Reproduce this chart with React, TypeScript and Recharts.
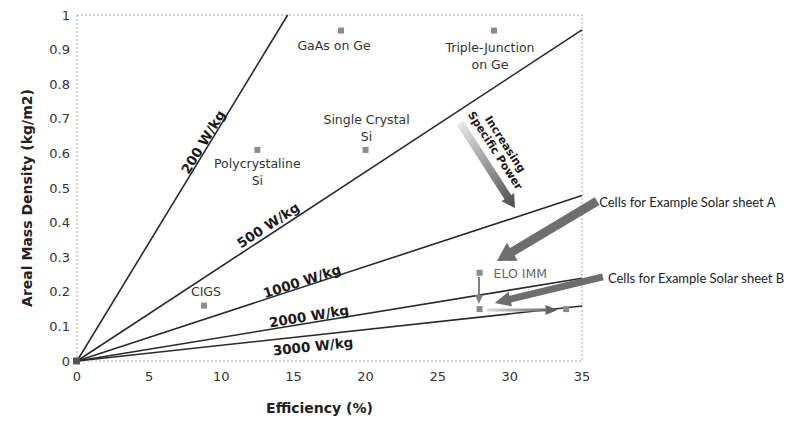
import React from "react";
import {
  ComposedChart,
  XAxis,
  YAxis,
  Scatter,
  ReferenceLine,
  ReferenceDot,
  ReferenceArea,
  Label,
} from "recharts";

// solar cell technologies: efficiency (%) vs areal mass density (kg/m2)
const cellEfficiency = [18.3, 28.9, 20.0, 12.5, 8.8, 27.9, 27.9, 33.9, 0];
const cellDensity = [0.955, 0.955, 0.61, 0.61, 0.16, 0.255, 0.15, 0.15, 0];
const cellNames = [
  "GaAs on Ge",
  "Triple-Junction|on Ge",
  "Single Crystal|Si",
  "Polycrystaline|Si",
  "CIGS",
  "ELO IMM",
  "",
  "",
  "",
];

// constant specific power lines, from origin to the end point
const powerLabels = ["200 W/kg", "500 W/kg", "1000 W/kg", "2000 W/kg", "3000 W/kg"];
const lineEndEfficiency = [14.6, 35, 35, 35, 35];
const lineEndDensity = [1, 0.957, 0.478, 0.239, 0.159];

const xTicks = [0, 5, 10, 15, 20, 25, 30, 35];
const yTicks = [0, 0.1, 0.2, 0.3, 0.4, 0.5, 0.6, 0.7, 0.8, 0.9, 1];

// annotation arrows in data units (tail -> tip)
const arrowTailX = [36.05, 36.45, 26.55, 27.86, 28.4];
const arrowTailY = [0.462, 0.243, 0.688, 0.243, 0.147];
const arrowTipX = [29.1, 28.95, 30.35, 27.86, 33.3];
const arrowTipY = [0.289, 0.168, 0.442, 0.165, 0.147];
const arrowText = ["Cells for Example Solar sheet A", "Cells for Example Solar sheet B", "", "", ""];

const verdana = "DejaVu Sans, Verdana, sans-serif";

// layout for labels (pixel offsets / placement)
const cellLabelLayout: Record<string, { dx: number; dy: number; anchor: string }> = {
  "GaAs on Ge": { dx: -7, dy: 14, anchor: "middle" },
  "Triple-Junction|on Ge": { dx: -4, dy: 16, anchor: "middle" },
  "Single Crystal|Si": { dx: 1, dy: -31, anchor: "middle" },
  "Polycrystaline|Si": { dx: 0, dy: 13, anchor: "middle" },
  CIGS: { dx: 2, dy: -15, anchor: "middle" },
  "ELO IMM": { dx: 14, dy: 0, anchor: "start" },
};

const lineLabelX = [8.73, 13.24, 15.59, 16.08, 16.36];
const lineLabelY = [0.633, 0.393, 0.231, 0.13, 0.043];
const lineLabelAngle = [-58.7, -33.2, -18.1, -9.5, -6.2];

// shaft width, head width, head length, colours (tail -> tip)
const arrowStyle = [
  { shaft: 9, head: 21, len: 18, from: "#6e6e6e", to: "#6e6e6e" },
  { shaft: 7, head: 15, len: 16, from: "#6e6e6e", to: "#6e6e6e" },
  { shaft: 8, head: 15, len: 13, from: "#e8e8e8", to: "#4a4a4a" },
  { shaft: 2, head: 8, len: 9, from: "#808080", to: "#808080" },
  { shaft: 3, head: 10, len: 12, from: "#dcdcdc", to: "#555555" },
];

function arrowPoints(x1: number, y1: number, x2: number, y2: number, s: number, h: number, l: number) {
  const dx = x2 - x1;
  const dy = y2 - y1;
  const d = Math.sqrt(dx * dx + dy * dy) || 1;
  const ux = dx / d;
  const uy = dy / d;
  const nx = -uy;
  const ny = ux;
  const bx = x2 - ux * l;
  const by = y2 - uy * l;
  const pts = [
    [x1 + (nx * s) / 2, y1 + (ny * s) / 2],
    [bx + (nx * s) / 2, by + (ny * s) / 2],
    [bx + (nx * h) / 2, by + (ny * h) / 2],
    [x2, y2],
    [bx - (nx * h) / 2, by - (ny * h) / 2],
    [bx - (nx * s) / 2, by - (ny * s) / 2],
    [x1 - (nx * s) / 2, y1 - (ny * s) / 2],
  ];
  return pts.map((p) => `${p[0].toFixed(1)},${p[1].toFixed(1)}`).join(" ");
}

const CellMarker = (props: any) => {
  const { cx, cy, payload } = props;
  if (cx == null || cy == null) return null;
  if (payload && payload.x === 0) {
    return <rect x={cx - 4} y={cy - 3.5} width={7} height={7} fill="#555" />;
  }
  return <rect x={cx - 3} y={cy - 3} width={6} height={6} fill="#8c8c8c" />;
};

const cellData = cellEfficiency.map((x, i) => ({ x, y: cellDensity[i], name: cellNames[i] }));

export default function App() {
  return (
    <div style={{ position: "absolute", left: 0, top: 0, background: "#fff" }}>
      <ComposedChart
        width={795}
        height={429}
        margin={{ top: 15, right: 213, bottom: 38, left: 0 }}
      >
        <XAxis
          type="number"
          dataKey="x"
          domain={[0, 35]}
          ticks={xTicks}
          axisLine={false}
          tickLine={false}
          tickSize={0}
          tickMargin={11}
          height={30}
          tick={{ fill: "#333", fontSize: 13, fontFamily: verdana }}
        >
          <Label
            content={(p: any) => {
              const vb = p.viewBox || { x: 77, y: 361, width: 505 };
              return (
                <text
                  x={vb.x + vb.width / 2 - 10}
                  y={413}
                  textAnchor="middle"
                  fontFamily={verdana}
                  fontWeight="bold"
                  fontSize={14}
                  fill="#222"
                >
                  Efficiency (%)
                </text>
              );
            }}
          />
        </XAxis>
        <YAxis
          type="number"
          dataKey="y"
          domain={[0, 1]}
          ticks={yTicks}
          axisLine={false}
          tickLine={false}
          tickSize={0}
          tickMargin={7}
          width={77}
          tick={{ fill: "#333", fontSize: 13, fontFamily: verdana }}
        >
          <Label
            content={() => (
              <text
                x={32}
                y={198}
                transform="rotate(-90 32 198)"
                textAnchor="middle"
                fontFamily={verdana}
                fontWeight="bold"
                fontSize={14}
                fill="#222"
              >
                Areal Mass Density (kg/m2)
              </text>
            )}
          />
        </YAxis>

        <ReferenceArea
          x1={0}
          x2={35}
          y1={0}
          y2={1}
          fill="none"
          fillOpacity={0}
          stroke="#a8a8a8"
          strokeDasharray="2 2"
          strokeWidth={1}
          ifOverflow="visible"
        />

        {powerLabels.map((label, i) => (
          <ReferenceLine
            key={label}
            segment={[
              { x: 0, y: 0 },
              { x: lineEndEfficiency[i], y: lineEndDensity[i] },
            ]}
            stroke="#2a2a2a"
            strokeWidth={1.6}
            ifOverflow="visible"
          />
        ))}

        {powerLabels.map((label, i) => (
          <ReferenceDot
            key={"lbl" + label}
            x={lineLabelX[i]}
            y={lineLabelY[i]}
            r={0}
            ifOverflow="visible"
            shape={(p: any) => (
              <text
                x={p.cx}
                y={p.cy}
                transform={`rotate(${lineLabelAngle[i]} ${p.cx} ${p.cy})`}
                textAnchor="middle"
                dominantBaseline="central"
                fontFamily={verdana}
                fontWeight="bold"
                fontSize={13.5}
                fill="#1a1a1a"
              >
                {label}
              </text>
            )}
          />
        ))}

        {arrowText.map((txt, i) => (
          <ReferenceLine
            key={"arrow" + i}
            segment={[
              { x: arrowTailX[i], y: arrowTailY[i] },
              { x: arrowTipX[i], y: arrowTipY[i] },
            ]}
            ifOverflow="visible"
            shape={(p: any) => {
              const st = arrowStyle[i];
              const gid = "arrowGrad" + i;
              return (
                <g>
                  <defs>
                    <linearGradient
                      id={gid}
                      gradientUnits="userSpaceOnUse"
                      x1={p.x1}
                      y1={p.y1}
                      x2={p.x2}
                      y2={p.y2}
                    >
                      <stop offset="0" stopColor={st.from} />
                      <stop offset="1" stopColor={st.to} />
                    </linearGradient>
                  </defs>
                  <polygon
                    points={arrowPoints(p.x1, p.y1, p.x2, p.y2, st.shaft, st.head, st.len)}
                    fill={`url(#${gid})`}
                  />
                  {txt ? (
                    <text
                      x={p.x1 + (i === 0 ? 2 : 5)}
                      y={p.y1 + 1}
                      dominantBaseline="central"
                      fontFamily="Lato, 'Open Sans', sans-serif"
                      fontSize={13}
                      fill="#222"
                    >
                      {txt}
                    </text>
                  ) : null}
                </g>
              );
            }}
          />
        ))}

        <ReferenceDot
          x={29.35}
          y={0.618}
          r={0}
          ifOverflow="visible"
          shape={(p: any) => (
            <text
              transform={`rotate(57 ${p.cx} ${p.cy})`}
              textAnchor="middle"
              fontFamily={verdana}
              fontWeight="bold"
              fontSize={11}
              fill="#1a1a1a"
            >
              <tspan x={p.cx} y={p.cy - 2}>
                Increasing
              </tspan>
              <tspan x={p.cx} y={p.cy + 10}>
                Specific Power
              </tspan>
            </text>
          )}
        />

        <Scatter
          data={cellData}
          isAnimationActive={false}
          shape={CellMarker}
        />

        {cellData
          .filter((d) => d.name)
          .map((d) => (
            <ReferenceDot
              key={"cell" + d.name}
              x={d.x}
              y={d.y}
              r={0}
              ifOverflow="visible"
              shape={(p: any) => {
                const lay = cellLabelLayout[d.name];
                const lines = d.name.split("|");
                return (
                  <text
                    textAnchor={lay.anchor}
                    fontFamily={verdana}
                    fontSize={12.5}
                    fill={d.name === "ELO IMM" ? "#666" : "#333"}
                    dominantBaseline="central"
                  >
                    {lines.map((ln, k) => (
                      <tspan key={k} x={p.cx + lay.dx} y={p.cy + lay.dy + k * 17}>
                        {ln}
                      </tspan>
                    ))}
                  </text>
                );
              }}
            />
          ))}
      </ComposedChart>
    </div>
  );
}
